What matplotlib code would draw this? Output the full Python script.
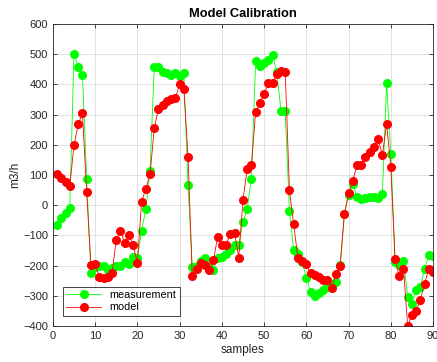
import numpy as np
import matplotlib
matplotlib.use("Agg")
import matplotlib.pyplot as plt

plt.rcParams['font.family'] = ['Liberation Sans', 'DejaVu Sans']

##############################################################################
# data
samples = np.arange(1, 91)

measurement = [
    -66, -41, -25, -10, 502, 458, 432, 86, -224, -205,
    -200, -202, -215, -208, -202, -200, -188, -193, -171, -176,
    -85, -14, 113, 458, 458, 440, 436, 432, 436, 428,
    438, 66, -204, -200, -185, -175, -204, -215, -175, -172,
    -160, -147, -132, -130, -55, -11, 88, 478, 461, 472,
    480, 497, 441, 312, 312, -19, -149, -160, -188, -240,
    -287, -301, -290, -282, -272, -262, -254, -199, -30, 35,
    70, 28, 22, 25, 28, 28, 25, 36, 403, 171,
    -188, -199, -184, -303, -326, -279, -270, -210, -166, -168,
]

model = [
    105, 90, 78, 64, 199, 268, 304, 44, -198, -195,
    -238, -242, -238, -224, -116, -85, -125, -99, -132, -190,
    11, 55, 102, 254, 320, 331, 345, 350, 356, 400,
    386, 160, -235, -210, -191, -199, -215, -182, -105, -132,
    -130, -96, -91, -173, 17, 121, 132, 309, 338, 368,
    405, 405, 433, 445, 442, 50, -63, -173, -183, -193,
    -225, -232, -237, -248, -247, -274, -228, -202, -30, 39,
    81, 132, 134, 160, 177, 193, 218, 166, 270, 128,
    -177, -235, -210, -400, -362, -350, -312, -259, -210, -222,
]

##############################################################################
# plot
fig = plt.figure(figsize=(4.37, 3.62), dpi=100)
ax = fig.add_axes([0.121, 0.099, 0.870, 0.835])

ax.plot(samples, measurement, '-o', color='#00FF00', lw=0.6,
        markersize=5.5, markerfacecolor='#00FF00', markeredgecolor='#00FF00',
        label='measurement')
ax.plot(samples, model, '-o', color='#FF0000', lw=0.6,
        markersize=5.5, markerfacecolor='#FF0000', markeredgecolor='#FF0000',
        label='model')

ax.set_xlim(0, 90)
ax.set_ylim(-400, 600)
ax.set_xticks(np.arange(0, 91, 10))
ax.set_yticks(np.arange(-400, 601, 100))

ax.grid(True, color='#DCDCDC', lw=0.6)
ax.set_axisbelow(True)
ax.tick_params(direction='in', top=True, right=True, labelsize=8,
               colors='#262626', length=3, width=0.6)
for s in ax.spines.values():
    s.set_color('#262626')
    s.set_linewidth(0.6)

ax.set_title("Model Calibration", fontsize=9.3, fontweight='bold',
             color='black', pad=5)
ax.set_xlabel("samples", fontsize=8.5, color='#262626', labelpad=2)
ax.set_ylabel("m3/h", fontsize=8.5, color='#262626', labelpad=1)

leg = ax.legend(loc='lower left', bbox_to_anchor=(0.027, 0.035),
                fontsize=7.8, frameon=True, fancybox=False,
                edgecolor='#262626', framealpha=1, borderpad=0.3,
                handlelength=3.2, labelspacing=0.2, borderaxespad=0)
leg.get_frame().set_linewidth(0.6)

fig.savefig("out.png", dpi=100)
